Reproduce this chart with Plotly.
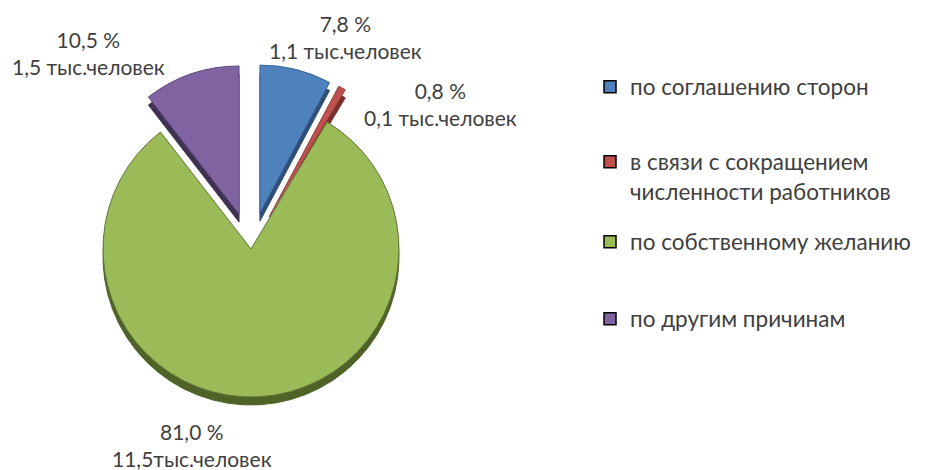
import plotly.graph_objects as go

categories = ["по соглашению сторон",
              "в связи с сокращением<br>численности работников",
              "по собственному желанию",
              "по другим причинам"]
percents = [7.8, 0.8, 81.0, 10.5]
counts = [1.1, 0.1, 11.5, 1.5]
count_sep = [" ", " ", "", " "]
colors = ["#4F81BD", "#C0504D", "#9BBB59", "#8064A2"]
edge_colors = ["#3A6496", "#94403D", "#5E7434", "#5E4A7A"]
rim_colors = ["#2E4E78", "#7A2F2C", "#4F6328", "#3F3152"]
pulls = [0.25, 0.25, 0.0, 0.25]

# the page body adds an 8px offset; work in screen pixels and convert
OFF = 8
SW, SH = 926, 470
W, H = SW - OFF, SH - OFF


def px(x):
    return (x - OFF) / W


def py(y):
    return 1 - (y - OFF) / H


cx, cy, r = 251, 249, 148
half = r * (1 + max(pulls))
dom_x = [px(cx - half), px(cx + half)]
dom_y = [py(cy + half), py(cy - half)]
rim = 8 / H

fig = go.Figure()
# darker rim (pseudo 3-D depth)
fig.add_trace(go.Pie(values=percents, labels=categories, sort=False, direction="clockwise",
                     pull=pulls, marker=dict(colors=rim_colors, line=dict(color=rim_colors, width=1)),
                     textinfo="none", hoverinfo="skip", showlegend=False,
                     domain=dict(x=dom_x, y=[dom_y[0] - rim, dom_y[1] - rim])))
fig.add_trace(go.Pie(values=percents, labels=categories, sort=False, direction="clockwise",
                     pull=pulls, marker=dict(colors=colors, line=dict(color=edge_colors, width=1)),
                     textinfo="none", showlegend=False,
                     domain=dict(x=dom_x, y=dom_y)))

font_family = "Lato, 'Noto Sans', sans-serif"
txt_color = "#404040"

# data labels (pixel centres)
label_pos = [(345, 37), (440, 104), (192, 445), (88, 53)]
for p, c, s, (lx, ly) in zip(percents, counts, count_sep, label_pos):
    txt = f"{p:.1f}".replace(".", ",") + " %<br>" + f"{c:.1f}".replace(".", ",") + s + "тыс.человек"
    fig.add_annotation(x=px(lx), y=py(ly), xref="paper", yref="paper", text=txt,
                       showarrow=False, xanchor="center", yanchor="middle",
                       font=dict(family=font_family, size=21, color=txt_color))

# legend entries (separate legends for the uneven spacing of the original)
leg_y = [87, 176.5, 242, 319]
leg_names = ["legend", "legend2", "legend3", "legend4"]
layout_legends = {}
for name, col, ln, ly in zip(categories, colors, leg_names, leg_y):
    fig.add_trace(go.Scatter(x=[None], y=[None], mode="markers", name=name, legend=ln,
                             marker=dict(symbol="square", size=12, color=col,
                                         line=dict(color="#000000", width=1.5))))
    layout_legends[ln] = dict(x=px(590), y=py(ly), xanchor="left", yanchor="middle",
                              bgcolor="rgba(0,0,0,0)", itemwidth=30, valign="top",
                              font=dict(family=font_family, size=22.5, color=txt_color))

fig.update_layout(width=W, height=H, margin=dict(l=0, r=0, t=0, b=0),
                  paper_bgcolor="white", plot_bgcolor="white",
                  xaxis=dict(visible=False), yaxis=dict(visible=False),
                  **layout_legends)

fig.write_html("out.html")
